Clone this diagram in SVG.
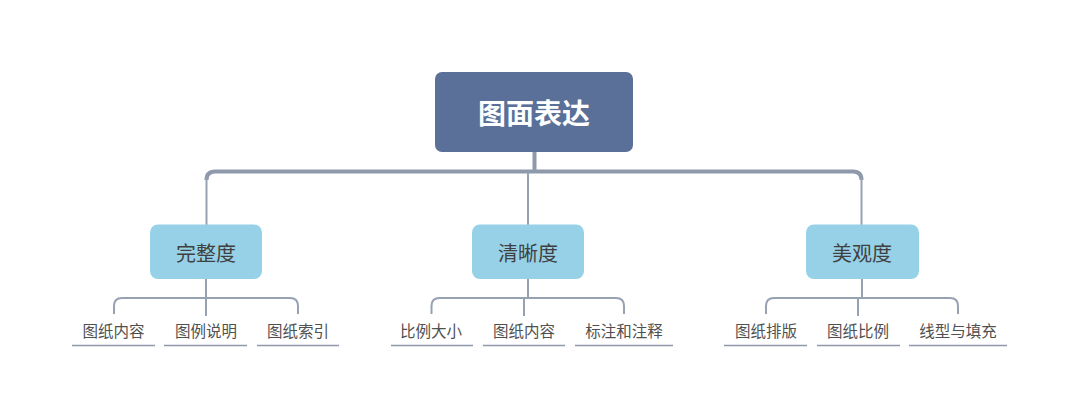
<svg xmlns="http://www.w3.org/2000/svg" width="1080" height="419" viewBox="0 0 1080 419">
<style>
.root{fill:#5a7098}
.l1{fill:#96d1e7}
.rt{font-family:"Noto Sans CJK SC",sans-serif;font-size:28px;font-weight:bold;fill:#ffffff;text-anchor:middle;dominant-baseline:central}
.t1{font-family:"Noto Sans CJK SC",sans-serif;font-size:20px;fill:#404040;text-anchor:middle;dominant-baseline:central}
.t2{font-family:"Noto Sans CJK SC",sans-serif;font-size:15.5px;fill:#505050;text-anchor:middle;dominant-baseline:central}
.thick{fill:none;stroke:#8e99ab;stroke-width:4}
.thin{fill:none;stroke:#96a1b2;stroke-width:2}
.ul{stroke:#8e99ab;stroke-width:1.5}
</style>
<g id="connectors">
<line class="thick" x1="534.5" y1="151" x2="534.5" y2="171" stroke-width="5"/>
<path class="thick" d="M206.5,180 Q206.5,171.5 215,171.5 L853,171.5 Q861.5,171.5 861.5,180"/>
<line class="thin" x1="206.5" y1="178" x2="206.5" y2="225"/>
<line class="thin" x1="528" y1="172" x2="528" y2="225"/>
<line class="thin" x1="861.5" y1="178" x2="861.5" y2="225"/>
<line class="thin" x1="206" y1="279" x2="206" y2="316"/>
<path class="thin" d="M114,314 L114,306 Q114,298 122,298 L290,298 Q298,298 298,306 L298,314"/>
<line class="thin" x1="528" y1="279" x2="528" y2="298"/>
<line class="thin" x1="524" y1="298" x2="524" y2="316"/>
<path class="thin" d="M431.5,314 L431.5,306 Q431.5,298 439.5,298 L616,298 Q624,298 624,306 L624,314"/>
<line class="thin" x1="862" y1="279" x2="862" y2="298"/>
<line class="thin" x1="858" y1="298" x2="858" y2="316"/>
<path class="thin" d="M766,314 L766,306 Q766,298 774,298 L950,298 Q958,298 958,306 L958,314"/>
</g>
<g id="root"><rect class="root" x="435" y="72" width="198" height="80" rx="7"/><text class="rt" x="534" y="112">图面表达</text></g>
<g id="n1"><rect class="l1" x="150" y="224.5" width="112" height="54.5" rx="8"/><text class="t1" x="206" y="252">完整度</text></g>
<g id="n2"><rect class="l1" x="472" y="224.5" width="112" height="54.5" rx="8"/><text class="t1" x="528" y="252">清晰度</text></g>
<g id="n3"><rect class="l1" x="806" y="224.5" width="113" height="54.5" rx="8"/><text class="t1" x="862" y="252">美观度</text></g>
<g id="leaf1"><text class="t2" x="113.5" y="330">图纸内容</text><line class="ul" x1="72" y1="345.5" x2="155" y2="345.5"/></g>
<g id="leaf2"><text class="t2" x="206" y="330">图例说明</text><line class="ul" x1="164" y1="345.5" x2="247" y2="345.5"/></g>
<g id="leaf3"><text class="t2" x="298" y="330">图纸索引</text><line class="ul" x1="257" y1="345.5" x2="339" y2="345.5"/></g>
<g id="leaf4"><text class="t2" x="431" y="330">比例大小</text><line class="ul" x1="391" y1="345.5" x2="473" y2="345.5"/></g>
<g id="leaf5"><text class="t2" x="524" y="330">图纸内容</text><line class="ul" x1="483" y1="345.5" x2="565" y2="345.5"/></g>
<g id="leaf6"><text class="t2" x="624" y="330">标注和注释</text><line class="ul" x1="575" y1="345.5" x2="673" y2="345.5"/></g>
<g id="leaf7"><text class="t2" x="766" y="330">图纸排版</text><line class="ul" x1="724" y1="345.5" x2="807" y2="345.5"/></g>
<g id="leaf8"><text class="t2" x="858" y="330">图纸比例</text><line class="ul" x1="817" y1="345.5" x2="900" y2="345.5"/></g>
<g id="leaf9"><text class="t2" x="958" y="330">线型与填充</text><line class="ul" x1="909" y1="345.5" x2="1007" y2="345.5"/></g>
</svg>
